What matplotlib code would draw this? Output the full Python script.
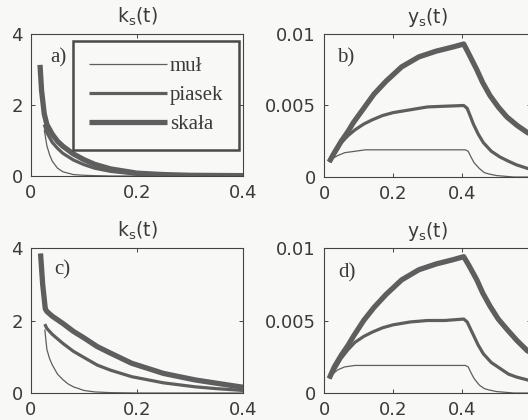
import matplotlib
matplotlib.use("Agg")
import matplotlib.pyplot as plt


### Data
# a) k_s(t)
t_a_skala = [0.017, 0.02, 0.025, 0.03, 0.04, 0.05, 0.06, 0.08, 0.10, 0.12, 0.15, 0.20, 0.25, 0.30, 0.35, 0.40]
k_a_skala = [3.13, 2.40, 1.75, 1.45, 1.18, 0.98, 0.84, 0.62, 0.46, 0.33, 0.20, 0.08, 0.04, 0.02, 0.015, 0.01]
t_a_piasek = [0.025, 0.03, 0.04, 0.05, 0.06, 0.08, 0.10, 0.12, 0.15, 0.20, 0.25, 0.30, 0.40]
k_a_piasek = [1.45, 1.22, 0.95, 0.78, 0.64, 0.45, 0.32, 0.22, 0.13, 0.05, 0.02, 0.01, 0.0]
t_a_mul = [0.025, 0.03, 0.035, 0.04, 0.05, 0.06, 0.08, 0.10, 0.12, 0.15, 0.20, 0.30, 0.40]
k_a_mul = [1.30, 0.85, 0.60, 0.42, 0.22, 0.12, 0.04, 0.02, 0.01, 0.0, 0.0, 0.0, 0.0]

# c) k_s(t)
t_c_skala = [0.018, 0.022, 0.027, 0.03, 0.04, 0.06, 0.08, 0.10, 0.125, 0.15, 0.19, 0.25, 0.31, 0.35, 0.39, 0.40]
k_c_skala = [3.85, 3.00, 2.32, 2.25, 2.12, 1.92, 1.70, 1.52, 1.28, 1.10, 0.82, 0.54, 0.36, 0.27, 0.18, 0.16]
t_c_piasek = [0.026, 0.03, 0.04, 0.06, 0.08, 0.10, 0.125, 0.15, 0.19, 0.25, 0.31, 0.35, 0.40]
k_c_piasek = [1.90, 1.78, 1.62, 1.37, 1.15, 0.98, 0.77, 0.63, 0.45, 0.28, 0.17, 0.12, 0.07]
t_c_mul = [0.026, 0.03, 0.035, 0.04, 0.05, 0.06, 0.07, 0.08, 0.10, 0.12, 0.15, 0.20, 0.30, 0.40]
k_c_mul = [1.75, 1.20, 0.95, 0.78, 0.52, 0.37, 0.25, 0.17, 0.07, 0.03, 0.01, 0.0, 0.0, 0.0]

# b) and d) y_s(t)
t_y_skala = [0.015, 0.03, 0.05, 0.07, 0.085, 0.115, 0.145, 0.18, 0.225, 0.275, 0.325, 0.375, 0.405,
             0.42, 0.443, 0.46, 0.481, 0.505, 0.53, 0.56, 0.59, 0.60]
y_b_skala = [0.00105, 0.0017, 0.0025, 0.0032, 0.0038, 0.0048, 0.0058, 0.0067, 0.0077, 0.0084, 0.0088, 0.0091, 0.0093,
             0.0086, 0.0075, 0.0066, 0.0057, 0.0049, 0.0042, 0.0036, 0.0031, 0.0030]
y_d_skala = [0.00100, 0.0018, 0.0026, 0.0033, 0.0039, 0.0050, 0.0059, 0.0068, 0.0078, 0.0085, 0.0089, 0.0092, 0.0094,
             0.0088, 0.0078, 0.0069, 0.0060, 0.0051, 0.0044, 0.0036, 0.0029, 0.0028]

t_y_piasek = [0.015, 0.03, 0.05, 0.07, 0.09, 0.115, 0.14, 0.17, 0.20, 0.25, 0.30, 0.35, 0.405,
              0.415, 0.425, 0.433, 0.447, 0.462, 0.485, 0.51, 0.535, 0.558, 0.59, 0.60]
y_b_piasek = [0.00105, 0.0016, 0.0024, 0.0029, 0.0033, 0.0037, 0.0040, 0.0043, 0.0045, 0.0047, 0.0049, 0.00495, 0.0050,
              0.0048, 0.0042, 0.0037, 0.0030, 0.0024, 0.0018, 0.0014, 0.0011, 0.00085, 0.0006, 0.00055]
y_d_piasek = [0.00100, 0.0016, 0.0024, 0.0030, 0.0035, 0.0039, 0.0042, 0.0045, 0.0047, 0.0049, 0.0050, 0.0050, 0.0051,
              0.0049, 0.0044, 0.0040, 0.0033, 0.0027, 0.0021, 0.0017, 0.0013, 0.0011, 0.0009, 0.00085]

t_y_mul = [0.015, 0.025, 0.04, 0.06, 0.09, 0.12, 0.20, 0.30, 0.41, 0.418, 0.426, 0.435, 0.45, 0.465, 0.48, 0.50, 0.55, 0.60]
y_b_mul = [0.00105, 0.0013, 0.0015, 0.0017, 0.0018, 0.0019, 0.0019, 0.0019, 0.0019,
           0.0018, 0.0014, 0.0010, 0.0006, 0.0003, 0.0002, 0.0001, 0.0, 0.0]
y_d_mul = [0.00100, 0.0013, 0.0016, 0.0018, 0.0019, 0.0019, 0.0019, 0.0019, 0.0019,
           0.0018, 0.0014, 0.0010, 0.00055, 0.0003, 0.0002, 0.0001, 0.0, 0.0]

labels = ["muł", "piasek", "skała"]
k_title = r"k$_\mathregular{s}$(t)"
y_title = r"y$_\mathregular{s}$(t)"


### Style
bg = "#f8f8f6"
line_c = "#5e5e5e"
text_c = "#3a3a3a"
widths = [0.9, 2.3, 3.8]

plt.rcParams["font.family"] = "DejaVu Sans"
plt.rcParams["font.size"] = 13

fig = plt.figure(figsize=(5.28, 4.2), dpi=100)
fig.patch.set_facecolor(bg)

W, H = 528.0, 420.0
ax_a = fig.add_axes([31 / W, (H - 176) / H, 212 / W, 142 / H])
ax_b = fig.add_axes([324 / W, (H - 177) / H, 207 / W, 143 / H])
ax_c = fig.add_axes([31 / W, (H - 393) / H, 212 / W, 145 / H])
ax_d = fig.add_axes([324 / W, (H - 393) / H, 207 / W, 145 / H])


def style(ax, title, letter, lx, ly):
    ax.set_facecolor(bg)
    for s in ax.spines.values():
        s.set_color("#444444")
        s.set_linewidth(0.8)
    ax.tick_params(direction="in", length=3, width=0.7, color="#444444",
                   labelcolor=text_c, top=True, right=True, labelsize=13, pad=6)
    ax.set_title(title, fontsize=13.5, color=text_c, pad=8)
    ax.text(lx, ly, letter, transform=ax.transAxes, ha="left", va="center",
            family="Liberation Serif", fontsize=15, color=text_c)


### k_s panels
for ax, data, letter, lx, ly in [
        (ax_a, [(t_a_mul, k_a_mul), (t_a_piasek, k_a_piasek), (t_a_skala, k_a_skala)], "a)", 0.09, 0.83),
        (ax_c, [(t_c_mul, k_c_mul), (t_c_piasek, k_c_piasek), (t_c_skala, k_c_skala)], "c)", 0.11, 0.85)]:
    for (t, k), lw, lab in zip(data, widths, labels):
        ax.plot(t, k, color=line_c, lw=lw, label=lab, solid_capstyle="butt")
    ax.set_xlim(0, 0.4)
    ax.set_ylim(0, 4)
    ax.set_xticks([0, 0.2, 0.4])
    ax.set_xticklabels(["0", "0.2", "0.4"])
    ax.set_yticks([0, 2, 4])
    style(ax, k_title, letter, lx, ly)

### y_s panels
for ax, ys, letter, lx, ly in [
        (ax_b, [y_b_mul, y_b_piasek, y_b_skala], "b)", 0.065, 0.83),
        (ax_d, [y_d_mul, y_d_piasek, y_d_skala], "d)", 0.07, 0.83)]:
    for t, y, lw in zip([t_y_mul, t_y_piasek, t_y_skala], ys, widths):
        ax.plot(t, y, color=line_c, lw=lw, solid_capstyle="butt")
    ax.set_xlim(0, 0.6)
    ax.set_ylim(0, 0.01)
    ax.set_xticks([0, 0.2, 0.4])
    ax.set_xticklabels(["0", "0.2", "0.4"])
    ax.set_yticks([0, 0.005, 0.01])
    ax.set_yticklabels(["0", "0.005", "0.01"])
    style(ax, y_title, letter, lx, ly)

### Legend in a)
leg = ax_a.legend(loc="upper right", bbox_to_anchor=(0.981, 0.951), borderaxespad=0,
                  prop={"family": "Liberation Serif", "size": 15},
                  handlelength=3.75, handletextpad=0.15, labelspacing=0.45,
                  borderpad=0.75, fancybox=False, framealpha=1)
leg.get_frame().set_edgecolor("#4a4a4a")
leg.get_frame().set_linewidth(1.8)
leg.get_frame().set_facecolor(bg)
for txt in leg.get_texts():
    txt.set_color(text_c)

fig.savefig("out.png", dpi=100, facecolor=bg)
